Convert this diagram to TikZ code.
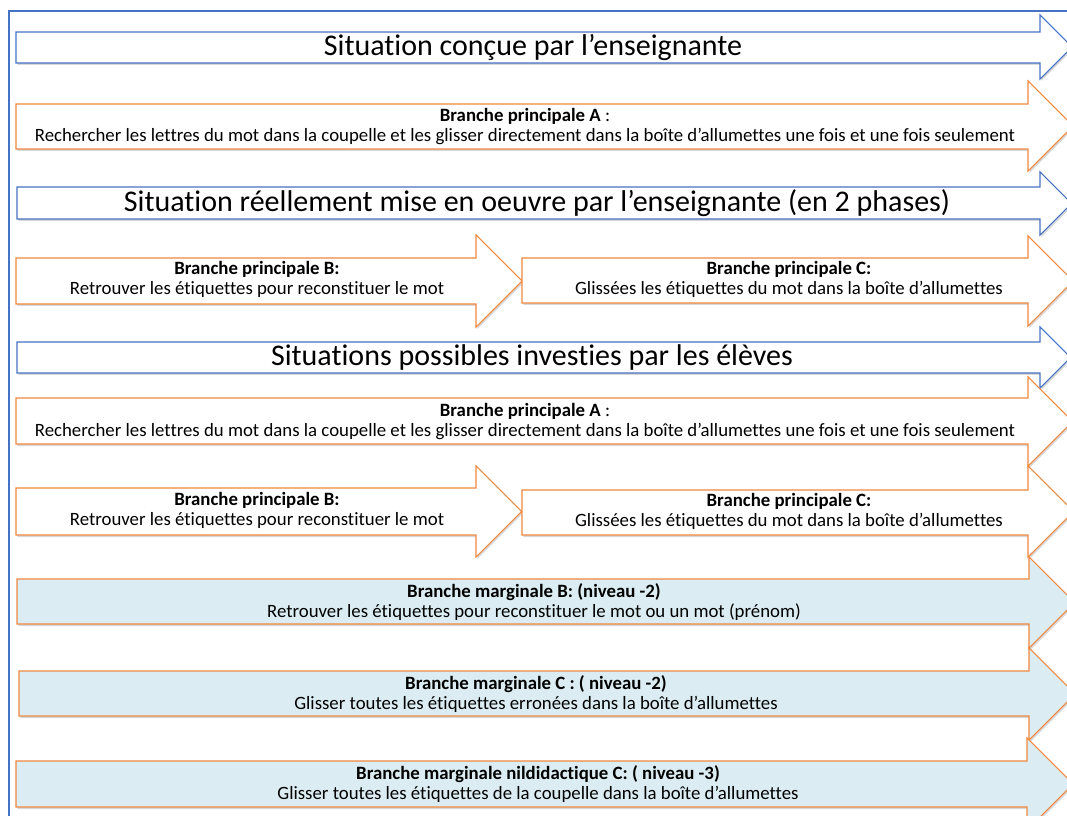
\documentclass[tikz,border=0pt]{standalone}
\usepackage{fontspec}
\setmainfont[Ligatures={NoCommon}]{Carlito}
\usetikzlibrary{shadows}

\definecolor{frameblue}{HTML}{4472C4}
\definecolor{branchorange}{HTML}{F0883E}
\definecolor{margfill}{HTML}{DBEDF3}

\tikzset{
    situation/.style={draw=frameblue, fill=white, line width=0.8pt,
        drop shadow={opacity=0.3, shadow xshift=1pt, shadow yshift=-1.5pt}},
    principale/.style={draw=branchorange, fill=white, line width=0.8pt,
        drop shadow={opacity=0.3, shadow xshift=1pt, shadow yshift=-1.5pt}},
    marginale/.style={draw=branchorange, fill=margfill, line width=0.8pt,
        drop shadow={opacity=0.3, shadow xshift=1pt, shadow yshift=-1.5pt}},
    titletext/.style={inner sep=0pt, font=\fontsize{22.5}{26}\selectfont},
    branchtext/.style={inner sep=0pt, align=center, font=\fontsize{14.1}{15}\selectfont},
}

% style, x left, x body end, body top, body bottom, head top, head bottom
\newcommand{\branchshape}[7]{%
    \draw[#1] (#2,#4) -- (#3,#4) -- (#3,#6) -- ({#3+(#7-#6)/2},{(#6+#7)/2})
        -- (#3,#7) -- (#3,#5) -- (#2,#5) -- cycle;}

\begin{document}
\begin{tikzpicture}[x=0.75pt, y=-0.75pt]
    \useasboundingbox (0,0) rectangle (1067,816);
    \clip (0,0) rectangle (1067,816);
    \fill[white] (0,0) rectangle (1067,816);
    \draw[frameblue, line width=0.8pt] (9,11) rectangle (1100,850);

    % situation concue
    \branchshape{situation}{16}{1040}{32}{63}{15}{79}
    \node[titletext] (concue) at (533,48) {Situation conçue par l’enseignante};

    \branchshape{principale}{16}{1028}{104}{149}{81}{171}
    \node[branchtext] (brA) at (525,127) {\textbf{Branche principale A} :\\Rechercher les lettres du mot dans la coupelle et les glisser directement dans la boîte d’allumettes une fois et une fois seulement};

    % situation reelle
    \branchshape{situation}{17}{1040}{187}{219}{172}{235}
    \node[titletext] (reelle) at (537,203) {Situation réellement mise en oeuvre par l’enseignante (en 2 phases)};

    \branchshape{principale}{16}{476}{258}{304}{235}{327}
    \node[branchtext] (brB) at (257,279) {\textbf{Branche principale B:}\\Retrouver les étiquettes pour reconstituer le mot};
    \branchshape{principale}{522}{1028}{258}{303}{236}{326}
    \node[branchtext] (brC) at (789,279) {\textbf{Branche principale C:}\\Glissées les étiquettes du mot dans la boîte d’allumettes};

    % situations des eleves
    \branchshape{situation}{17}{1040}{342}{373}{327}{388}
    \node[titletext] (eleves) at (532,358) {Situations possibles investies par les élèves};

    \branchshape{principale}{16}{1028}{398}{444}{377}{466}
    \node[branchtext] (brA2) at (525,422) {\textbf{Branche principale A} :\\Rechercher les lettres du mot dans la coupelle et les glisser directement dans la boîte d’allumettes une fois et une fois seulement};

    \branchshape{principale}{16}{476}{488}{535}{466}{557}
    \node[branchtext] (brB2) at (257,510) {\textbf{Branche principale B:}\\Retrouver les étiquettes pour reconstituer le mot};
    \branchshape{principale}{522}{1028}{490}{535}{466}{557}
    \node[branchtext] (brC2) at (789,511) {\textbf{Branche principale C:}\\Glissées les étiquettes du mot dans la boîte d’allumettes};

    % branches marginales
    \branchshape{marginale}{17}{1029}{579}{624}{557}{648}
    \node[branchtext] (margB) at (534,602) {\textbf{Branche marginale B: (niveau -2)}\\Retrouver les étiquettes pour reconstituer le mot ou un mot (prénom)};

    \branchshape{marginale}{19}{1029}{671}{716}{648}{740}
    \node[branchtext] (margC) at (536,694) {\textbf{Branche marginale C : ( niveau -2)}\\Glisser toutes les étiquettes erronées dans la boîte d’allumettes};

    \branchshape{marginale}{16}{1027}{761}{807}{738}{830}
    \node[branchtext] (nildid) at (538,784) {\textbf{Branche marginale nildidactique C: ( niveau -3)}\\Glisser toutes les étiquettes de la coupelle dans la boîte d’allumettes};
\end{tikzpicture}
\end{document}
